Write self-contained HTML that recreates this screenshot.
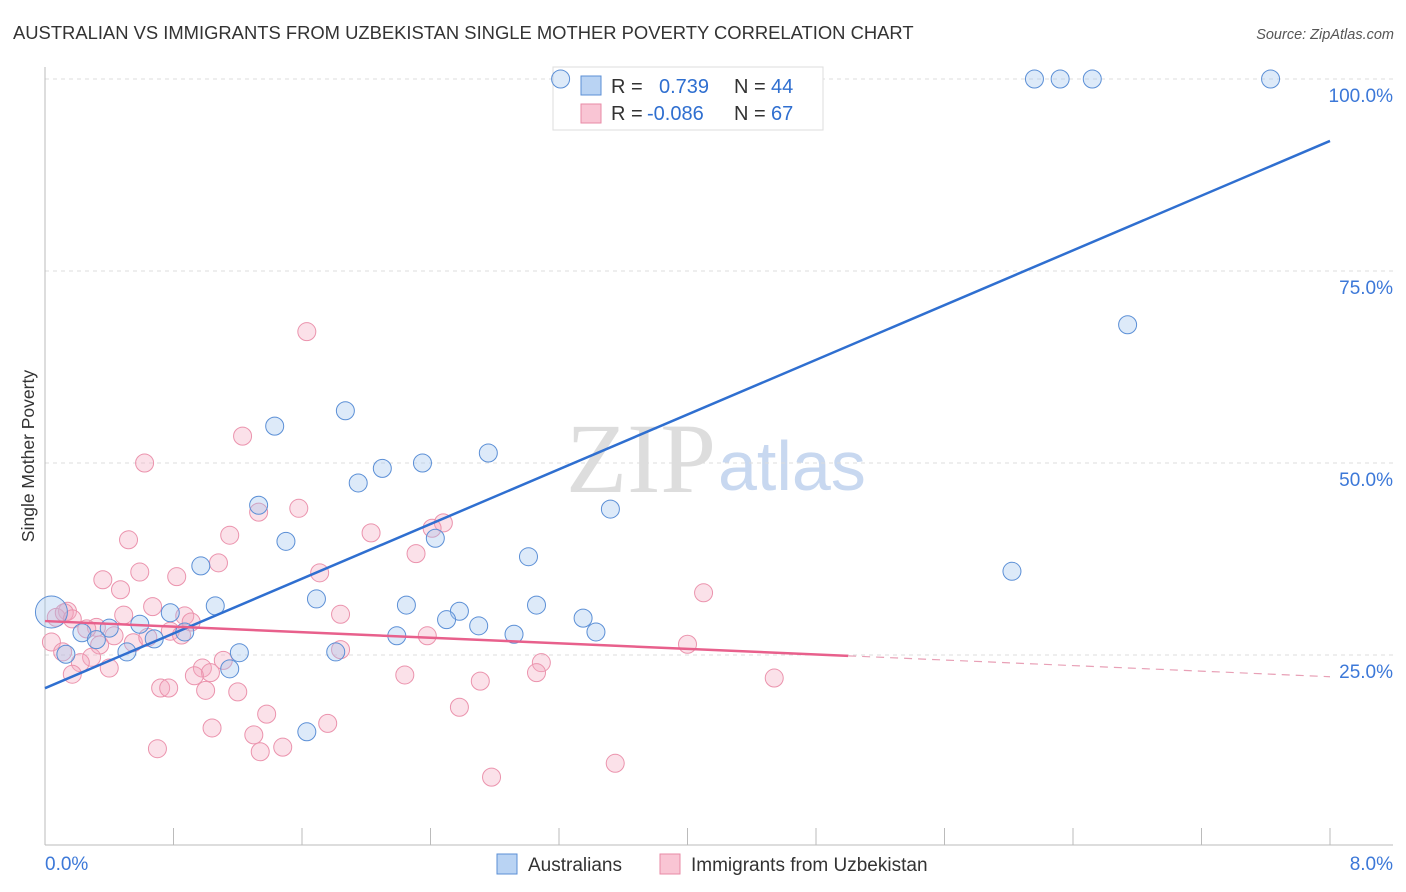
<!DOCTYPE html>
<html><head><meta charset="utf-8"><style>
body{margin:0;background:#fff;font-family:"Liberation Sans",sans-serif;}
svg{display:block}
</style></head><body>
<svg id="chart" width="1406" height="892" xmlns="http://www.w3.org/2000/svg">
<text x="13" y="39" font-size="18.4" fill="#333">AUSTRALIAN VS IMMIGRANTS FROM UZBEKISTAN SINGLE MOTHER POVERTY CORRELATION CHART</text>
<text x="1394" y="39" font-size="14.5" fill="#555" font-style="italic" text-anchor="end">Source: ZipAtlas.com</text>
<text x="716" y="492" font-size="100" fill="#ddd" font-family="Liberation Serif,serif" text-anchor="end">ZIP</text>
<text x="718" y="490" font-size="70" fill="#c8d8f0">atlas</text>
<text transform="translate(34,456) rotate(-90)" font-size="17.5" fill="#333" text-anchor="middle">Single Mother Poverty</text>
<g id="grid"></g><g id="axes"></g>
<g>
<rect x="553" y="67" width="270" height="63" fill="#fff" stroke="#ddd"/>
<rect x="581" y="76" width="20" height="19" fill="#b9d3f3" stroke="#5b8fd6"/>
<rect x="581" y="104" width="20" height="19" fill="#f9c5d4" stroke="#e88aa6"/>
<text x="611" y="93" font-size="20" fill="#333">R = <tspan x="659" fill="#2f6fd0">0.739</tspan><tspan x="734" fill="#333">N = </tspan><tspan x="771" fill="#2f6fd0">44</tspan></text>
<text x="611" y="120" font-size="20" fill="#333">R = <tspan x="647" fill="#2f6fd0">-0.086</tspan><tspan x="734" fill="#333">N = </tspan><tspan x="771" fill="#2f6fd0">67</tspan></text>
</g>
<g id="pts"></g><g id="lines"></g>
<g>
<rect x="497" y="854" width="20" height="20" fill="#b9d3f3" stroke="#5b8fd6"/>
<text x="528" y="871" font-size="19" fill="#333">Australians</text>
<rect x="660" y="854" width="20" height="20" fill="#f9c5d4" stroke="#e88aa6"/>
<text x="691" y="871" font-size="19" fill="#333">Immigrants from Uzbekistan</text>
</g>
</svg>
<script>
const blueX=[3.21,6.16,6.32,6.52,7.63,6.74,1.87,1.43,2.76,2.35,2.10,1.95,3.52,1.33,1.50,2.43,3.01,0.97,6.02,1.69,1.06,2.25,2.58,3.06,2.50,0.78,2.70,3.35,3.43,2.92,2.19,0.59,0.40,0.23,0.87,0.68,0.32,0.51,0.13,1.21,1.81,1.15,1.63,0.04];
const blueY=[100,100,100,100,100,68.0,56.8,54.8,51.3,50.0,49.3,47.4,44.0,44.5,39.8,40.2,37.8,36.6,35.9,32.3,31.4,31.5,30.7,31.5,29.6,30.5,28.8,29.8,28.0,27.7,27.5,29.0,28.5,27.9,28.0,27.1,27.0,25.4,25.1,25.3,25.4,23.2,15.0,30.6];
const pinkX=[1.63,1.23,0.62,1.58,1.33,2.03,2.48,2.41,0.52,1.15,2.31,1.08,0.59,1.71,0.36,0.82,0.47,4.10,0.14,0.67,0.49,0.87,1.84,0.07,0.32,0.91,0.78,0.43,2.38,0.85,0.26,0.55,0.34,0.04,4.00,0.64,0.11,1.84,0.29,0.22,0.40,3.09,1.11,0.98,3.06,1.03,0.93,2.24,0.17,4.54,2.71,0.72,0.77,1.00,1.20,2.58,1.38,1.04,1.76,1.30,1.48,0.70,1.34,3.55,2.78,0.12,0.17];
const pinkY=[67.1,53.5,50.0,44.1,43.6,40.9,42.2,41.5,40.0,40.6,38.2,37.0,35.8,35.7,34.8,35.2,33.5,33.1,30.7,31.3,30.2,30.1,30.3,29.9,28.6,29.3,28.1,27.5,27.5,27.6,28.4,26.6,26.3,26.7,26.4,27.3,25.4,25.7,24.7,24.0,23.3,24.0,24.3,23.3,22.7,22.7,22.3,22.4,22.5,22.0,21.6,20.7,20.7,20.4,20.2,18.2,17.3,15.5,16.1,14.6,13.0,12.8,12.4,10.9,9.1,30.5,29.7];
const yTicks=[25,50,75,100];
const yTickLabels=["25.0%","50.0%","75.0%","100.0%"];
const xTicks=[0,0.8,1.6,2.4,3.2,4.0,4.8,5.6,6.4,7.2,8.0];
const xTickLabels=["0.0%","8.0%"];
const NS="http://www.w3.org/2000/svg";
const X=v=>45+v/8*1285, Y=v=>847-v*7.68;
function mk(tag,attrs,parent){const e=document.createElementNS(NS,tag);for(const k in attrs)e.setAttribute(k,attrs[k]);document.getElementById(parent).appendChild(e);return e;}
yTicks.forEach((t,i)=>{
 const g=mk('line',{x1:45,x2:1393,y1:Y(t),y2:Y(t),stroke:'#ddd','stroke-dasharray':'4,4'},'grid');
 
 
 const tx=mk('text',{x:1393,y:Y(t)+23,'font-size':19,fill:'#3c78d8','text-anchor':'end'},'grid');
 tx.textContent=yTickLabels[i];
 
 
});
const ax=mk('line',{x1:45,x2:45,y1:67,y2:845,stroke:'#bbb'},'axes');


const bx=mk('line',{x1:45,x2:1393,y1:845,y2:845,stroke:'#bbb'},'axes');


xTicks.forEach(t=>{
 const l=mk('line',{x1:X(t),x2:X(t),y1:828,y2:845,stroke:'#bbb'},'axes');
 
 
});
[[0,'start',45],[8,'end',1393]].forEach((d,i)=>{
 const t=mk('text',{x:d[2],y:870,'font-size':19,fill:'#3c78d8','text-anchor':d[1]},'axes');
 t.textContent=xTickLabels[i];
 
 
});
function dots(xs,ys,fill,stroke,name){
 xs.forEach((x,i)=>{
  const r=(name==='blue-point'&&i===xs.length-1)?16:9;
  const c=mk('circle',{cx:X(x),cy:Y(ys[i]),r:r,fill:fill,'fill-opacity':0.35,stroke:stroke,'stroke-width':1},'pts');
  
  
 });
}
dots(pinkX,pinkY,'#f4a8bf','#eb93ad','pink-point');
dots(blueX,blueY,'#9fc2ee','#5b8fd6','blue-point');
function fit(xs,ys){const n=xs.length;let mx=0,my=0;xs.forEach((x,i)=>{mx+=x;my+=ys[i]});mx/=n;my/=n;let sxy=0,sxx=0;xs.forEach((x,i)=>{sxy+=(x-mx)*(ys[i]-my);sxx+=(x-mx)**2});const b=sxy/sxx;return [my-b*mx,b];}
const [ba,bb]=fit(blueX,blueY);
const bl=mk('line',{x1:X(0),y1:Y(ba),x2:X(8),y2:Y(ba+bb*8),stroke:'#2f6fd0','stroke-width':2.5},'lines');


const [pa,pb]=fit(pinkX,pinkY);
const pe=5.0;
const pl=mk('line',{x1:X(0),y1:Y(pa),x2:X(pe),y2:Y(pa+pb*pe),stroke:'#e8608c','stroke-width':2.5},'lines');


const pd=mk('line',{x1:X(pe),y1:Y(pa+pb*pe),x2:X(8),y2:Y(pa+pb*8),stroke:'#e8a0b6','stroke-width':1.2,'stroke-dasharray':'8,6'},'lines');


</script>
</body></html>
